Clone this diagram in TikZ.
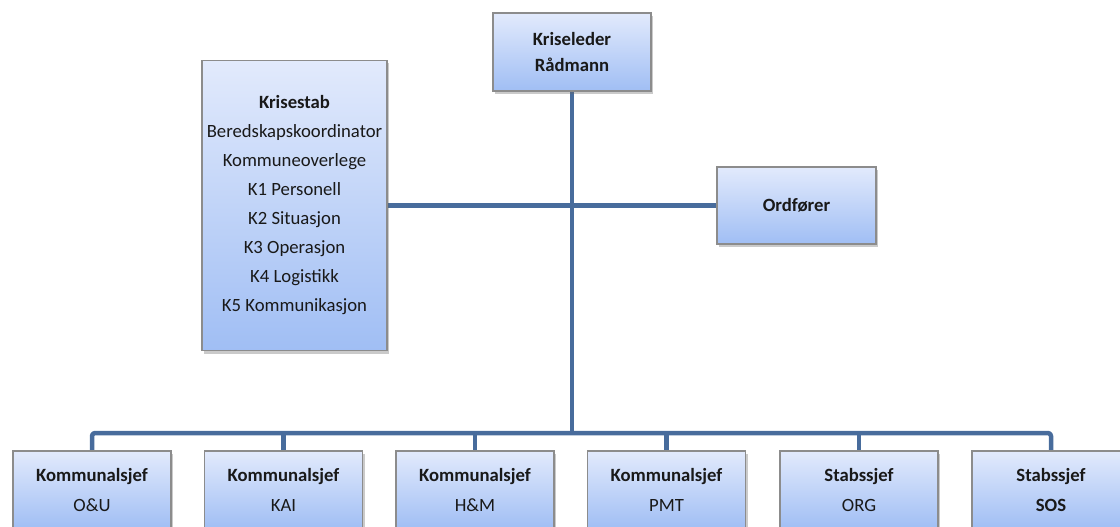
\documentclass[tikz,border=0pt]{standalone}
\usepackage{fontspec}
\setmainfont{Carlito}
\usetikzlibrary{shadows,backgrounds}
\definecolor{linec}{RGB}{72,108,156}
\definecolor{boxtop}{RGB}{226,234,252}
\definecolor{boxbot}{RGB}{160,190,244}
\definecolor{boxline}{RGB}{140,140,140}
\tikzset{
  orgbox/.style={rectangle, draw=boxline, line width=1.2pt, top color=boxtop, bottom color=boxbot,
    drop shadow={shadow xshift=2pt, shadow yshift=-3pt, opacity=0.35, fill=black!60},
    align=center, inner sep=0pt, text=black!90, font=\fontsize{18.7}{26}\selectfont},
  smallbox/.style={orgbox, minimum width=158pt, minimum height=78pt},
  conn/.style={draw=linec, line width=4.5pt, line join=round}
}
\begin{document}
\begin{tikzpicture}[x=1pt,y=-1pt]
\useasboundingbox (0,0) rectangle (1120,527);
\clip (0,0) rectangle (1120,527);
\node[smallbox] (leder) at (572,52) {\textbf{Kriseleder}\\\textbf{Rådmann}};
\node[orgbox, minimum width=185pt, minimum height=290pt, font=\fontsize{18.7}{29}\selectfont] (stab) at (294.5,205.5)
  {\textbf{Krisestab}\\Beredskapskoordinator\\Kommuneoverlege\\K1 Personell\\K2 Situasjon\\K3 Operasjon\\K4 Logistikk\\K5 Kommunikasjon};
\node[smallbox, minimum width=159pt, minimum height=77pt] (ord) at (796.5,205.5) {\textbf{Ordfører}};
\node[smallbox, font=\fontsize{18.7}{30}\selectfont] (b1) at (92,490) {\textbf{Kommunalsjef}\\O\&U};
\node[smallbox, font=\fontsize{18.7}{30}\selectfont] (b2) at (283.5,490) {\textbf{Kommunalsjef}\\KAI};
\node[smallbox, font=\fontsize{18.7}{30}\selectfont] (b3) at (475,490) {\textbf{Kommunalsjef}\\H\&M};
\node[smallbox, font=\fontsize{18.7}{30}\selectfont] (b4) at (666.5,490) {\textbf{Kommunalsjef}\\PMT};
\node[smallbox, font=\fontsize{18.7}{30}\selectfont] (b5) at (859,490) {\textbf{Stabssjef}\\ORG};
\node[smallbox, font=\fontsize{18.7}{30}\selectfont] (b6) at (1051,490) {\textbf{Stabssjef}\\\textbf{SOS}};
\coordinate (bus) at (572,433);
\begin{pgfonlayer}{background}
\draw[conn] (leder.south) -- (bus);
\draw[conn] (stab.east) -- (ord.west);
\draw[conn, rounded corners=3pt] (b1.north) -- (b1.north |- bus) -- (b6.north |- bus) -- (b6.north);
\draw[conn] (b2.north) -- (b2.north |- bus);
\draw[conn] (b3.north) -- (b3.north |- bus);
\draw[conn] (b4.north) -- (b4.north |- bus);
\draw[conn] (b5.north) -- (b5.north |- bus);
\end{pgfonlayer}
\end{tikzpicture}
\end{document}
